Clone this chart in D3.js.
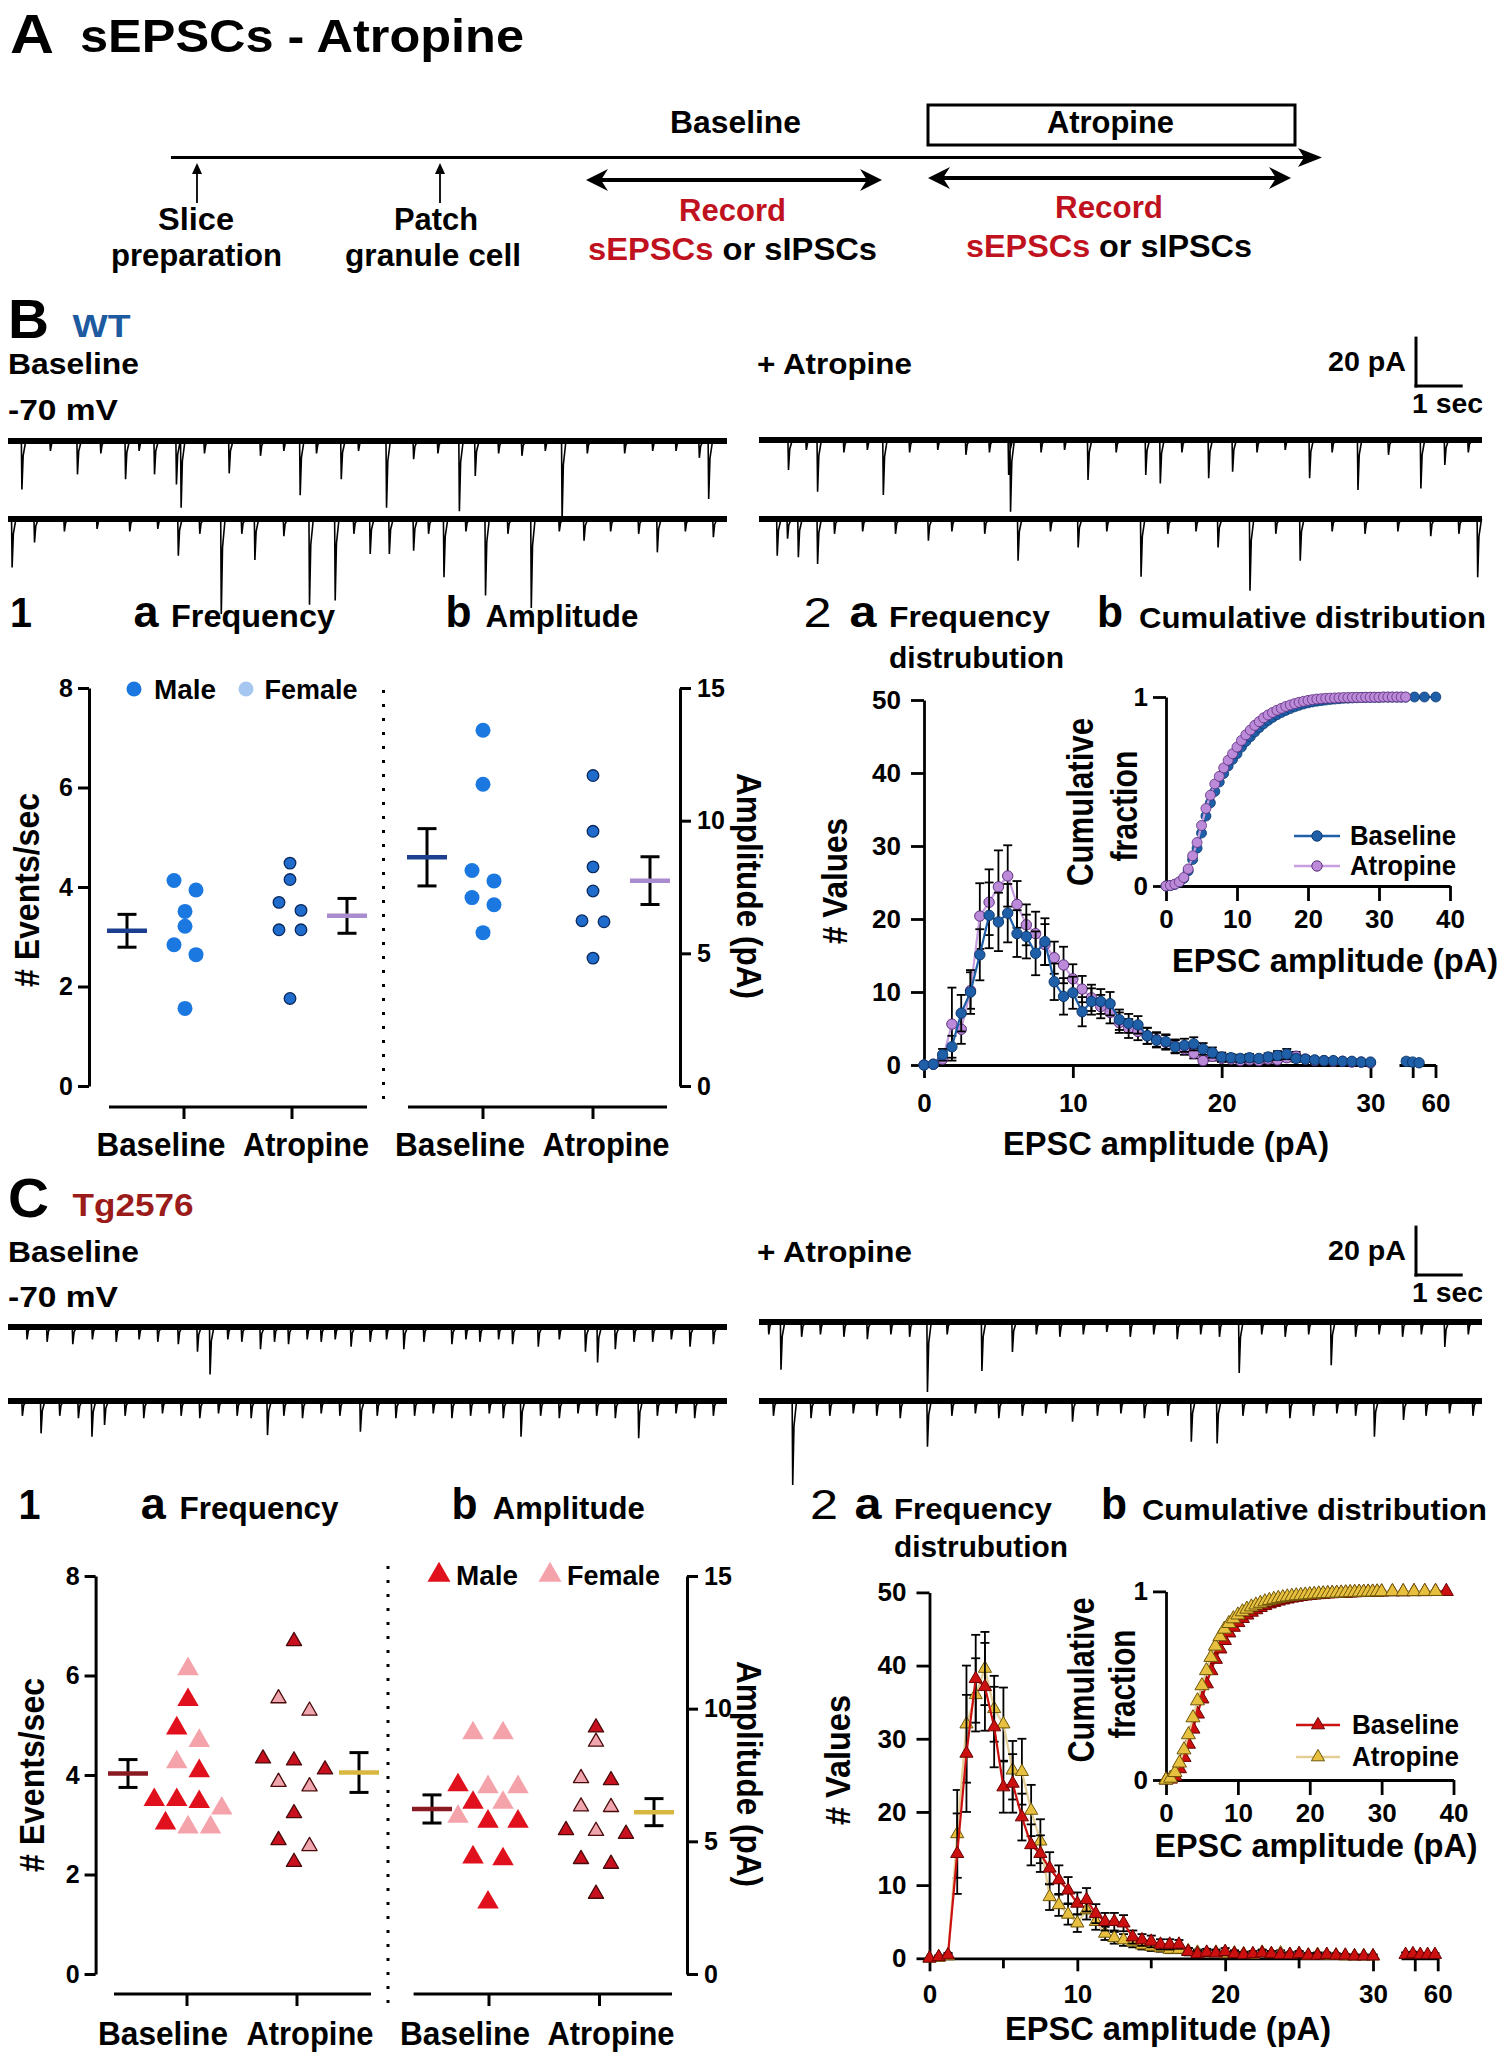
<!DOCTYPE html>
<html><head><meta charset="utf-8">
<script src="https://cdn.jsdelivr.net/npm/d3@7"></script>
<style>body{margin:0;background:#fff}svg{display:block}</style>
</head><body><svg id="fig" width="1508" height="2060"></svg>
<script>
// ---------------- DATA ----------------
// Example traces: spontaneous events [time (s), amplitude (pA)]
const wtBase1 = [[0.29,19.6],[0.9,4],[1.48,13.5],[1.98,5],[2.51,15.5],[2.8,4],[3.13,13.5],[3.6,17.6],[3.7,27],[4.2,5],[4.73,13.1],[5.4,6],[5.9,4],[6.25,22],[6.6,5],[7.13,15.5],[7.5,4],[8.1,27],[8.68,7.4],[9.2,5],[9.66,28.4],[10.0,14.2],[10.5,5],[11.0,6],[11.5,4],[11.86,32],[12.4,5],[13.2,5],[13.8,4],[14.3,4],[14.8,6.8],[15.0,23.5]];
const wtBase2 = [[0.08,19.6],[0.56,9.5],[1.2,5],[1.9,4],[2.6,5],[3.2,4],[3.64,14.9],[4.1,6],[4.56,38.5],[5.0,6],[5.28,16.6],[5.9,7],[6.45,34.7],[7.0,33],[7.4,6],[7.75,14.2],[8.16,14.2],[8.68,12.8],[9.0,6],[9.33,23.6],[9.8,5],[10.22,31],[10.7,6],[11.2,36],[11.8,5],[12.33,8.8],[12.9,5],[13.5,6],[13.9,13.5],[14.5,5],[15.1,7.4]];
const wtAtro1 = [[0.62,12.1],[1.0,4],[1.24,20.9],[1.8,5],[2.3,4],[2.64,22.3],[3.2,5],[3.8,4],[4.4,6],[4.9,5],[5.31,14.2],[5.35,29],[6.0,5],[6.5,4],[7.0,16.2],[7.6,5],[8.23,14.2],[8.54,17.6],[9.0,5],[9.57,15.5],[10.08,12.8],[10.6,5],[11.2,4],[11.72,15.5],[12.2,5],[12.75,20.2],[13.4,6],[14.09,19.6],[14.6,10.1],[15.1,5]];
const wtAtro2 = [[0.38,14.9],[0.6,8],[0.83,15.5],[1.24,18.2],[1.6,6],[2.2,5],[2.9,6],[3.6,8.8],[4.1,5],[4.8,6],[5.51,16.9],[6.2,5],[6.79,11.5],[7.4,5],[8.13,23.4],[8.7,6],[9.3,5],[9.77,11.5],[10.45,29],[11.0,6],[11.52,16.9],[12.2,5],[12.9,6],[13.6,5],[14.3,7],[14.9,6],[15.3,23.6]];
const tgBase1 = [[0.4,5],[0.83,6],[1.38,7],[1.8,5],[2.31,6],[2.8,5],[3.2,6],[3.64,7],[4.05,10],[4.32,19.2],[4.7,5],[5.0,6],[5.4,9],[5.7,6],[6.0,7],[6.4,5],[6.7,6],[7.0,5],[7.34,8],[7.75,6],[8.1,5],[8.47,9],[8.9,6],[9.5,7],[9.8,5],[10.1,6],[10.5,5],[10.8,7],[11.35,8],[11.8,5],[12.36,10],[12.62,14.4],[13.0,9],[13.4,6],[13.8,6],[14.2,5],[14.6,8],[15.1,7]];
const tgBase2 = [[0.3,6],[0.7,13.1],[1.1,6],[1.5,7],[1.79,14.5],[2.06,9.7],[2.5,6],[2.9,7],[3.3,5],[3.7,6],[4.1,7],[4.5,5],[4.9,6],[5.2,7],[5.55,13.8],[5.9,6],[6.3,7],[6.7,5],[7.1,6],[7.54,12.4],[7.9,6],[8.3,7],[8.7,6],[9.1,5],[9.5,7],[9.9,6],[10.3,5],[10.6,7],[10.98,14.5],[11.4,6],[11.8,7],[12.2,5],[12.6,6],[13.0,7],[13.5,15.1],[13.9,6],[14.3,5],[14.7,7],[15.1,6]];
const tgAtro1 = [[0.2,5],[0.46,19.3],[0.9,6],[1.3,5],[1.8,6],[2.3,7],[2.8,5],[3.2,6],[3.58,28.3],[4.0,5],[4.74,19.8],[5.39,12.1],[5.9,5],[6.4,6],[6.9,5],[7.4,4],[7.9,6],[8.4,5],[8.9,7],[9.4,5],[9.8,6],[10.22,20.6],[10.7,5],[11.2,6],[11.7,5],[12.18,17.5],[12.7,6],[13.2,5],[13.7,6],[14.1,5],[14.6,10.1],[15.1,5]];
const tgAtro2 = [[0.3,6],[0.71,34],[1.1,7],[1.5,6],[2.0,5],[2.5,6],[3.0,7],[3.58,18.5],[4.1,6],[4.6,5],[5.1,7],[5.6,6],[6.1,5],[6.67,8.4],[7.2,6],[7.7,5],[8.2,7],[8.7,6],[9.2,16.5],[9.75,17.2],[10.3,6],[10.8,5],[11.3,7],[11.8,6],[12.3,5],[12.7,6],[13.1,14.5],[13.72,7.7],[14.2,6],[14.7,5],[15.2,6]];

// Panel 1: per-cell values
const groups = ['Baseline','Atropine'];
const freqWTBase = [4.13,3.94,3.51,3.21,2.84,2.64,1.56];
const freqWTAtro = [4.48,4.15,3.69,3.53,3.14,3.14,1.76];
const ampWTBase  = [13.41,11.37,8.12,7.73,7.10,6.83,5.78];
const ampWTAtro  = [11.7,9.6,8.26,7.35,6.23,6.19,4.82];
const freqWTMean = [3.12,3.42], freqWTSem = [0.33,0.35];
const ampWTMean  = [8.62,7.74], ampWTSem  = [1.08,0.90];

const freqTgBase    = [6.13,5.51,4.94,4.69,4.26,4.08,3.50,3.50,3.46,3.33,3.03,2.95,2.95];
const freqTgBaseSex = ['F','M','M','F','F','M','M','M','M','F','M','F','F'];
const freqTgAtro    = [6.69,5.54,5.29,4.33,4.29,4.11,3.86,3.77,3.23,2.69,2.57,2.25];
const freqTgAtroSex = ['M','F','F','M','M','M','F','F','M','M','F','M'];
const ampTgBase     = [9.08,9.08,7.12,7.05,7.05,6.46,6.46,5.93,5.75,5.75,4.40,4.33,2.70];
const ampTgBaseSex  = ['F','F','M','F','F','M','F','F','M','M','M','M','M'];
const ampTgAtro     = [9.29,8.75,7.38,7.30,6.31,6.29,5.42,5.39,5.28,4.33,4.15,3.02];
const ampTgAtroSex  = ['M','F','F','M','F','F','M','F','M','M','M','M'];
const freqTgMean = [4.03,4.05], freqTgSem = [0.28,0.40];
const ampTgMean  = [6.22,6.10], ampTgSem  = [0.53,0.51];

// Panel 2a: frequency distribution (bin centres, pA)
const histBins = [0,0.625,1.25,1.875,2.5,3.125,3.75,4.375,5,5.625,6.25,6.875,7.5,8.125,8.75,9.375,10,10.625,11.25,11.875,12.5,13.125,13.75,14.375,15,15.625,16.25,16.875,17.5,18.125,18.75,19.375,20,20.625,21.25,21.875,22.5,23.125,23.75,24.375,25,25.625,26.25,26.875,27.5,28.125,28.75,29.375,30];
const histWTBase = [0,0.1,1.4,2.5,7.1,10.0,15.1,20.5,19.6,20.8,18.0,17.6,15.3,16.9,11.4,9.4,9.9,7.3,8.7,8.7,8.4,6.2,5.7,5.5,4.0,3.4,3.2,2.5,2.7,2.9,2.2,1.7,1.1,1.0,0.9,1.0,0.9,1.1,1.3,1.5,0.9,0.8,0.7,0.6,0.6,0.5,0.5,0.4,0.4];
const histWTBaseSem = [0,0.1,0.8,1.5,2.5,3,3.5,4.5,4,4,3.2,3,3,3.2,2.5,2.5,2.2,2,1.8,1.7,1.6,1.4,1.3,1.2,1.1,1,1,0.9,0.9,0.9,0.8,0.7,0.6,0.5,0.5,0.5,0.4,0.5,0.6,0.7,0.5,0.4,0.4,0.3,0.3,0.3,0.3,0.2,0.2];
const histWTAtro = [0,0.1,0.8,5.6,4.9,10.2,20.4,22.3,24.4,25.9,22.0,19.2,18.0,16.5,14.7,13.7,11.8,10.4,9.2,8.0,7.2,5.8,5.0,4.6,4.0,3.5,3.1,2.6,2.2,1.6,0.6,1.2,0.9,0.8,0.6,0.7,0.6,0.8,0.7,1.0,1.2,0.8,0.6,0.6,0.5,0.5,0.4,0.4,0.3];
const histWTAtroSem = [0,0.1,0.8,5,2,2.5,4.5,4.5,5,4.2,3.2,2.8,3,2.8,2.2,2.5,2,1.8,1.8,1.6,1.5,1.4,1.3,1.2,1.1,1,1,0.9,0.8,0.7,0.5,0.6,0.5,0.4,0.4,0.4,0.4,0.5,0.4,0.5,0.6,0.4,0.3,0.3,0.3,0.3,0.2,0.2,0.2];
const histWTTailBins = [56.8,57.5,58.2], histWTTailBase = [0.5,0.4,0.3], histWTTailSem = [0.4,0.2,0.2];

const histTgBase = [0,0.2,0.45,14.3,28.0,38.2,37.1,31.6,23.4,23.9,19.3,15.5,14.3,12.3,10.7,9.3,7.5,8.0,6.1,5.0,5.0,4.8,2.9,2.5,2.3,1.9,1.9,1.9,0.9,0.6,0.8,0.7,0.9,0.6,0.5,0.6,0.7,0.6,0.5,0.5,0.6,0.4,0.4,0.5,0.4,0.4,0.3,0.3,0.3];
const histTgBaseSem = [0,0.2,0.3,5.5,8,6,6,5.5,3.5,4,3.2,2.8,2.5,2.2,2,1.8,1.5,1.6,1.3,1.2,1.2,1.1,0.9,0.8,0.8,0.7,0.7,0.6,0.5,0.4,0.5,0.4,0.5,0.4,0.3,0.4,0.4,0.4,0.3,0.3,0.4,0.3,0.3,0.3,0.3,0.2,0.2,0.2,0.2];
const histTgAtro = [0,0.1,0.3,17.0,32.0,36.0,39.6,34.1,32.0,25.7,25.5,20.2,16.0,8.4,7.3,6.0,4.8,6.6,5.0,3.4,2.8,2.5,2.2,1.8,1.6,1.4,1.2,1.2,1.0,0.8,0.7,0.8,0.6,0.7,0.6,0.5,0.8,0.6,0.7,0.5,0.6,0.4,0.5,0.4,0.4,0.3,0.3,0.3,0.3];
const histTgAtroSem = [0,0.1,0.3,6,8,5,5,4.5,5,4,4.5,3.5,3,1.8,1.5,1.4,1.2,1.3,1.1,0.9,0.8,0.8,0.7,0.6,0.6,0.5,0.5,0.5,0.4,0.4,0.4,0.4,0.3,0.4,0.3,0.3,0.4,0.3,0.4,0.3,0.3,0.3,0.3,0.2,0.2,0.2,0.2,0.2,0.2];
const histTgTailBins = [56.5,57.3,58.1,58.9,59.7], histTgTailBase = [0.5,0.6,0.5,0.5,0.5], histTgTailSem = [0.3,0.3,0.2,0.2,0.2];

// Panel 2b: cumulative fraction
const cumAmpWT = histBins.concat([30.625,31.25,31.875,32.5,33.125,33.75,35,36.4,38]);
const cumWTBase = [0,0.002,0.008,0.02,0.04,0.08,0.14,0.20,0.28,0.37,0.44,0.50,0.55,0.595,0.635,0.67,0.70,0.735,0.765,0.79,0.815,0.838,0.858,0.876,0.892,0.906,0.918,0.929,0.939,0.948,0.956,0.963,0.969,0.974,0.978,0.981,0.984,0.987,0.989,0.991,0.993,0.994,0.995,0.996,0.997,0.997,0.998,0.998,0.998,0.999,0.999,0.999,0.999,0.999,0.999,1,1,1];
const cumWTAtro = [0,0.003,0.01,0.022,0.045,0.09,0.16,0.23,0.32,0.41,0.48,0.54,0.58,0.625,0.665,0.70,0.735,0.77,0.80,0.825,0.85,0.87,0.89,0.905,0.918,0.93,0.94,0.95,0.958,0.965,0.972,0.977,0.982,0.986,0.989,0.991,0.993,0.994,0.995,0.996,0.997,0.997,0.998,0.998,0.998,0.999,0.999,0.999,0.999,1,1,1,1,1,1];
const cumAmpTg = histBins.concat([31.5,33,34.5,36,37.5,39]);
const cumTgBase = [0,0.005,0.02,0.06,0.12,0.19,0.27,0.35,0.43,0.51,0.58,0.64,0.695,0.74,0.78,0.81,0.835,0.857,0.875,0.89,0.903,0.915,0.925,0.934,0.942,0.949,0.955,0.96,0.965,0.969,0.973,0.976,0.979,0.981,0.983,0.985,0.987,0.988,0.989,0.990,0.991,0.992,0.993,0.994,0.995,0.995,0.996,0.996,0.997,0.998,0.998,0.999,0.999,1,1];
const cumTgAtro = [0,0.01,0.04,0.09,0.16,0.24,0.33,0.42,0.50,0.58,0.65,0.71,0.76,0.80,0.83,0.855,0.875,0.892,0.906,0.918,0.928,0.937,0.945,0.952,0.958,0.963,0.967,0.971,0.974,0.977,0.979,0.981,0.983,0.985,0.987,0.988,0.989,0.99,0.991,0.992,0.993,0.994,0.995,0.996,0.996,0.997,0.997,0.998,0.998,0.999,0.999,0.999,1,1];

// ---------------- DRAWING ----------------
const svg = d3.select('#fig');
const FONT = '"Liberation Sans", Arial, Helvetica, sans-serif';
svg.append('rect').attr('width',1508).attr('height',2060).attr('fill','#fff');
const RED = '#c0121e';

function T(g,x,y,s,o={}){
  const t=g.append('text').attr('x',x).attr('y',y)
    .attr('font-family',FONT).attr('font-weight',o.w||'bold')
    .attr('font-size',o.size||31).attr('fill',o.fill||'#000')
    .attr('text-anchor',o.anchor||'start');
  if(o.tspans){ o.tspans.forEach(([str,col])=>t.append('tspan').attr('fill',col).text(str)); } else t.text(s);
  if(o.len) t.attr('textLength',o.len).attr('lengthAdjust','spacingAndGlyphs');
  if(o.rot) t.attr('transform',`rotate(${o.rot},${x},${y})`);
  if(o.db) t.attr('dominant-baseline',o.db);
  return t;
}
function L(g,x1,y1,x2,y2,w,col){
  return g.append('line').attr('x1',x1).attr('y1',y1).attr('x2',x2).attr('y2',y2)
    .attr('stroke',col||'#000').attr('stroke-width',w||2);
}
function styleAxis(a,fs,w){
  a.select('.domain').attr('stroke','#000').attr('stroke-width',w);
  a.selectAll('.tick line').attr('stroke','#000').attr('stroke-width',w);
  a.selectAll('.tick text').attr('font-family',FONT).attr('font-weight','bold').attr('font-size',fs).attr('fill','#000');
}

// ===== Panel A: protocol =====
const gA = svg.append('g');
T(gA,10,53,'A',{size:56,len:44});
T(gA,80,52,'sEPSCs - Atropine',{size:46,len:444});
L(gA,171,157.5,1304,157.5,3);
gA.append('path').attr('d','M1298,148 L1322,157.5 L1298,167 L1304,157.5 Z').attr('fill','#000');
gA.append('rect').attr('x',928).attr('y',105).attr('width',367).attr('height',40).attr('fill','none').attr('stroke','#000').attr('stroke-width',3);
T(gA,670,133,'Baseline',{size:32,len:131});
T(gA,1047,133,'Atropine',{size:32,len:127});
[197,440].forEach(x=>{
  L(gA,x,203,x,168,1.8);
  gA.append('path').attr('d',`M${x-5},174 L${x},163 L${x+5},174 Z`).attr('fill','#000');
});
T(gA,158,230,'Slice',{size:32,len:76});
T(gA,111,266,'preparation',{size:32,len:171});
T(gA,394,230,'Patch',{size:32,len:84});
T(gA,345,266,'granule cell',{size:32,len:176});
function dblArrow(x1,x2,y){
  L(gA,x1+8,y,x2-8,y,4);
  gA.append('path').attr('d',`M${x1},${y} L${x1+22},${y-11} L${x1+15},${y} L${x1+22},${y+11} Z`).attr('fill','#000');
  gA.append('path').attr('d',`M${x2},${y} L${x2-22},${y-11} L${x2-15},${y} L${x2-22},${y+11} Z`).attr('fill','#000');
}
dblArrow(586,882,180); dblArrow(928,1291,178);
T(gA,679,221,'Record',{size:32,len:107,fill:RED});
T(gA,588,260,'',{size:32,len:289,tspans:[['sEPSCs',RED],[' or sIPSCs','#000']]});
T(gA,1055,218,'Record',{size:32,len:108,fill:RED});
T(gA,966,257,'',{size:32,len:286,tspans:[['sEPSCs',RED],[' or sIPSCs','#000']]});

// ===== Trace panels =====
const traceDur = 15.4;
function trace(g, ev, x0, x1, base){
  const xs = d3.scaleLinear([0,traceDur],[x0,x1]);
  const ys = d3.scaleLinear([0,20],[base, base+49.4]);
  L(g,x0,base,x1,base,6);
  const pts=[[0,0]];
  ev.slice().sort((a,b)=>a[0]-b[0]).forEach(([t,a])=>{pts.push([t-0.004,0],[t+0.008,a],[t+0.035,a*0.3],[t+0.09,0]);});
  pts.push([traceDur,0]);
  g.append('path').attr('d',d3.line().x(d=>xs(d[0])).y(d=>ys(d[1]))(pts))
    .attr('fill','none').attr('stroke','#000').attr('stroke-width',1.6).attr('stroke-linejoin','bevel');
  return {xs,ys};
}
function traceHeader(c){
  const g=svg.append('g');
  T(g,8,c.letterY,c.letter,{size:56,len:41});
  T(g,72.5,c.letterY-1,c.geno,{size:31,len:c.genoLen,fill:c.genoCol});
  T(g,8,c.labY,'Baseline',{size:29,len:131});
  T(g,757,c.labY,'+ Atropine',{size:29,len:155});
  T(g,8,c.mvY,'-70 mV',{size:29,len:110});
  const s1 = trace(g,c.b1,8,727,c.base1);
  trace(g,c.b2,8,727,c.base2);
  trace(g,c.a1,759,1482,c.base1r);
  trace(g,c.a2,759,1482,c.base2);
  // scale bar: 20 pA, 1 s
  const vLen = s1.ys(20)-s1.ys(0), hLen = s1.xs(1)-s1.xs(0);
  L(g,1416,c.sbY-vLen,1416,c.sbY+1.5,3);
  L(g,1414.5,c.sbY,1416+hLen,c.sbY,3);
  T(g,1328,c.sbY-15,'20 pA',{size:27,len:78});
  T(g,1412,c.sbY+27,'1 sec',{size:27,len:71});
}
traceHeader({letter:'B',letterY:338,geno:'WT',genoLen:58,genoCol:'#1e5aa0',labY:374,mvY:420,
  base1:441,base1r:440,base2:519,b1:wtBase1,b2:wtBase2,a1:wtAtro1,a2:wtAtro2,sbY:386});
traceHeader({letter:'C',letterY:1217,geno:'Tg2576',genoLen:121,genoCol:'#9b1b1b',labY:1262,mvY:1307,
  base1:1327,base1r:1322,base2:1401,b1:tgBase1,b2:tgBase2,a1:tgAtro1,a2:tgAtro2,sbY:1275});

// ===== Panel 1 scatter =====
function rowsLayout(vals, sexes, yScale, thr, sp){
  const items = vals.map((v,i)=>({v, s:sexes?sexes[i]:'M'})).sort((a,b)=>b.v-a.v);
  const rows=[];
  items.forEach(it=>{
    const last=rows[rows.length-1];
    if(last && Math.abs(yScale(it.v)-yScale(last[0].v))<thr) last.push(it); else rows.push([it]);
  });
  rows.forEach(r=>r.forEach((it,i)=>{it.dx=(i-(r.length-1)/2)*sp;}));
  return items;
}
function marker(g,x,y,m){
  if(m.shape==='circle'){
    g.append('circle').attr('cx',x).attr('cy',y).attr('r',m.r).attr('fill',m.fill)
      .attr('stroke',m.stroke||'none').attr('stroke-width',m.sw||0);
  } else {
    g.append('path').attr('d',d3.symbol(d3.symbolTriangle,m.size)()).attr('transform',`translate(${x},${y})`)
      .attr('fill',m.fill).attr('stroke',m.stroke||'none').attr('stroke-width',m.sw||0).attr('stroke-linejoin','round');
  }
}
function meanBar(g,cx,y,m,s,col){
  L(g,cx,y(m+s),cx,y(m-s),3);
  L(g,cx-9.5,y(m+s),cx+9.5,y(m+s),3);
  L(g,cx-9.5,y(m-s),cx+9.5,y(m-s),3);
  L(g,cx-20,y(m),cx+20,y(m),4.5,col);
}
function scatterPanel(c){
  const g=svg.append('g');
  const yF=d3.scaleLinear([0,8],[c.fy0,c.fy8]);
  const yA=d3.scaleLinear([0,15],[c.fy0,c.fy8]);
  const aL=g.append('g').attr('transform',`translate(${c.lx},0)`)
    .call(d3.axisLeft(yF).tickValues([0,2,4,6,8]).tickSize(11).tickSizeOuter(0).tickPadding(5));
  const aR=g.append('g').attr('transform',`translate(${c.rx},0)`)
    .call(d3.axisRight(yA).tickValues([0,5,10,15]).tickSize(11).tickSizeOuter(0).tickPadding(6));
  styleAxis(aL,25,3); styleAxis(aR,25,3);
  // category x axes
  const xa=d3.scaleOrdinal(groups,c.aTicks), xb=d3.scaleOrdinal(groups,c.bTicks);
  L(g,c.aLine[0],c.xY,c.aLine[1],c.xY,3); L(g,c.bLine[0],c.xY,c.bLine[1],c.xY,3);
  groups.forEach((k,i)=>{
    L(g,xa(k),c.xY,xa(k),c.xY+12,3); L(g,xb(k),c.xY,xb(k),c.xY+12,3);
    T(g,c.aLab[i],c.labY,k,{size:33,len:c.aLen[i],anchor:'middle'});
    T(g,c.bLab[i],c.labY,k,{size:33,len:c.bLen[i],anchor:'middle'});
  });
  // separator
  L(g,c.sepX,c.sepY[0],c.sepX,c.sepY[1],3).attr('stroke-dasharray','3,11');
  // axis titles
  T(g,c.yl[0],c.yl[1],'# Events/sec',{size:35,len:194,anchor:'middle',rot:-90});
  T(g,c.yr[0],c.yr[1],'Amplitude (pA)',{size:35,len:226,anchor:'middle',rot:90});
  // headers
  T(g,c.h1[0],c.hY,'1',{size:42,len:22,w:'bold'});
  T(g,c.ha[0],c.hY,'a',{size:44,len:25});
  T(g,c.hf[0],c.hY,'Frequency',{size:31,len:c.hf[1]});
  T(g,c.hb[0],c.hY,'b',{size:44,len:26});
  T(g,c.hm[0],c.hY,'Amplitude',{size:31,len:c.hm[1]});
  // means
  meanBar(g,c.aMeans[0],yF,c.fMean[0],c.fSem[0],c.meanCol[0]);
  meanBar(g,c.aMeans[1],yF,c.fMean[1],c.fSem[1],c.meanCol[1]);
  meanBar(g,c.bMeans[0],yA,c.aMean[0],c.aSem[0],c.meanCol[0]);
  meanBar(g,c.bMeans[1],yA,c.aMean[1],c.aSem[1],c.meanCol[1]);
  // points
  const sets=[[c.fBase,c.fBaseSex,yF,c.aCent[0],c.mkBase,c.sp[0]],[c.fAtro,c.fAtroSex,yF,c.aCent[1],c.mkAtro,c.sp[1]],
              [c.aBase,c.aBaseSex,yA,c.bCent[0],c.mkBase,c.sp[2]],[c.aAtro,c.aAtroSex,yA,c.bCent[1],c.mkAtro,c.sp[3]]];
  sets.forEach(([vals,sex,ys,cx,mk,sp])=>{
    rowsLayout(vals,sex,ys,13.5,sp).forEach(it=>marker(g,cx+it.dx,ys(it.v),mk[it.s]));
  });
  // legend
  marker(g,c.leg[0],c.leg[1],c.mkLeg.M); T(g,c.leg[2],c.leg[1]+10,'Male',{size:27,len:62});
  marker(g,c.leg[3],c.leg[1],c.mkLeg.F); T(g,c.leg[4],c.leg[1]+10,'Female',{size:27,len:93});
}
const blueM='#1a78e0', blueF='#a6c8f0';
scatterPanel({fy0:1086,fy8:688,lx:89,rx:680,xY:1107,aLine:[109,367],bLine:[408,667],aTicks:[184,292],bTicks:[483,593],
  aCent:[185,290],bCent:[483,593],aMeans:[127,347],bMeans:[427,650],sepX:383.5,sepY:[690,1103],
  aLab:[161,306],aLen:[129,126],bLab:[460,606],bLen:[130,127],labY:1156,
  yl:[39,890],yr:[737,886],hY:627,h1:[10],ha:[133.5],hf:[171,164],hb:[445.6],hm:[485.4,153],
  fMean:freqWTMean,fSem:freqWTSem,aMean:ampWTMean,aSem:ampWTSem,meanCol:['#1d3f8f','#a98bd0'],
  fBase:freqWTBase,fAtro:freqWTAtro,aBase:ampWTBase,aAtro:ampWTAtro,
  mkBase:{M:{shape:'circle',r:7.5,fill:blueM},F:{shape:'circle',r:7.5,fill:blueF}},
  mkAtro:{M:{shape:'circle',r:5.8,fill:'#1f6ccc',stroke:'#0b2a5e',sw:1.3},F:{shape:'circle',r:5.8,fill:blueF,stroke:'#0b2a5e',sw:1.3}},
  mkLeg:{M:{shape:'circle',r:7.5,fill:blueM},F:{shape:'circle',r:7.5,fill:blueF}},
  sp:[22,22,22,22],leg:[134,689,154,246,264.6]});
const redM='#e0101c', pinkF='#f5a3ab';
scatterPanel({fy0:1974,fy8:1576,lx:95.6,rx:687,xY:1994,aLine:[114,371],bLine:[413.6,672],aTicks:[187,297],bTicks:[489,599.5],
  aCent:[188,294],bCent:[488,596],aMeans:[128,359],bMeans:[432,654],sepX:388,sepY:[1566,2006],
  aLab:[163,310],aLen:[130,127],bLab:[465,611],bLen:[130,127],labY:2045,
  yl:[44,1775],yr:[737,1774],hY:1519,h1:[18.4],ha:[140.8],hf:[179.6,159],hb:[451.5],hm:[492.7,152],
  fMean:freqTgMean,fSem:freqTgSem,aMean:ampTgMean,aSem:ampTgSem,meanCol:['#8a1a22','#d8b840'],
  fBase:freqTgBase,fBaseSex:freqTgBaseSex,fAtro:freqTgAtro,fAtroSex:freqTgAtroSex,
  aBase:ampTgBase,aBaseSex:ampTgBaseSex,aAtro:ampTgAtro,aAtroSex:ampTgAtroSex,
  mkBase:{M:{shape:'tri',size:200,fill:redM},F:{shape:'tri',size:200,fill:pinkF}},
  mkAtro:{M:{shape:'tri',size:100,fill:'#c8101e',stroke:'#4a0a0a',sw:1.3},F:{shape:'tri',size:100,fill:'#f0a6ae',stroke:'#4a0a0a',sw:1.3}},
  mkLeg:{M:{shape:'tri',size:230,fill:redM},F:{shape:'tri',size:230,fill:pinkF}},
  sp:[22.5,31,30,30],leg:[439,1575,456,550,567]});

// ===== Panel 2 =====
function series(g,xs,y,amps,vals,sems,st){
  const pts=amps.map((a,i)=>({a,v:vals[i],s:sems?sems[i]:0})).filter(d=>d.v!==undefined);
  if(sems) pts.filter(d=>d.s>0.15).forEach(d=>{
    const x=xs(d.a), y1=y(d.v+d.s), y2=y(Math.max(0,d.v-d.s));
    L(g,x,y1,x,y2,1.8); L(g,x-4.5,y1,x+4.5,y1,1.8); L(g,x-4.5,y2,x+4.5,y2,1.8);
  });
  g.append('path').attr('d',d3.line().x(d=>xs(d.a)).y(d=>y(d.v))(pts)).attr('fill','none')
    .attr('stroke',st.line).attr('stroke-width',st.lw||2.2);
  pts.forEach(d=>marker(g,xs(d.a),y(d.v),st.mk));
}
function histPanel(c){
  const g=svg.append('g');
  const x1=d3.scaleLinear([0,30],[c.x0,c.x30]);
  const x2=d3.scaleLinear([56,60],[c.s2a,c.s2b]);
  const y=d3.scaleLinear([0,50],[c.yb,c.yt]);
  const ay=g.append('g').attr('transform',`translate(${c.x0},0)`)
    .call(d3.axisLeft(y).tickValues([0,10,20,30,40,50]).tickSize(13).tickSizeOuter(0).tickPadding(10));
  const ax1=g.append('g').attr('transform',`translate(0,${c.yb})`)
    .call(d3.axisBottom(x1).tickValues([0,10,20,30]).tickSize(13).tickSizeOuter(0).tickPadding(c.xpad));
  const ax2=g.append('g').attr('transform',`translate(0,${c.yb})`)
    .call(d3.axisBottom(x2).tickValues([57.5,60]).tickFormat(d=>d===60?'60':'').tickSize(13).tickSizeOuter(0).tickPadding(c.xpad));
  [ay,ax1,ax2].forEach(a=>styleAxis(a,26,2.8));
  if(c.minor) [5,15,25].forEach(v=>L(g,x1(v),c.yb,x1(v),c.yb+10,2.8));
  T(g,c.ylab[0],c.ylab[1],'# Values',{size:35,len:c.ylab[2],anchor:'middle',rot:-90});
  T(g,c.xlab[0],c.xlab[1],'EPSC amplitude (pA)',{size:33,len:326,anchor:'middle'});
  c.ser.forEach(s=>{
    series(g,x1,y,histBins,s.vals,s.sems,s.st);
    if(s.tb) series(g,x2,y,s.tb,s.tv,s.ts,s.st);
  });
  // inset (cumulative)
  const ix=d3.scaleLinear([0,40],[c.i.x0,c.i.x40]);
  const iy=d3.scaleLinear([0,1],[c.i.yb,c.i.yt]);
  const iay=g.append('g').attr('transform',`translate(${c.i.x0},0)`)
    .call(d3.axisLeft(iy).tickValues([0,1]).tickFormat(d3.format('d')).tickSize(13).tickSizeOuter(0).tickPadding(5));
  const iax=g.append('g').attr('transform',`translate(0,${c.i.yb})`)
    .call(d3.axisBottom(ix).tickValues([0,10,20,30,40]).tickSize(15).tickSizeOuter(0).tickPadding(9));
  [iay,iax].forEach(a=>styleAxis(a,26,2.8));
  T(g,c.i.cum[0],c.i.cum[1],'Cumulative',{size:37,len:c.i.cum[2],anchor:'middle',rot:-90,db:'central'});
  T(g,c.i.fr[0],c.i.fr[1],'fraction',{size:37,len:c.i.fr[2],anchor:'middle',rot:-90,db:'central'});
  T(g,c.i.xl[0],c.i.xl[1],'EPSC amplitude (pA)',{size:33,len:c.i.xl[2],anchor:'middle'});
  c.cum.forEach(s=>series(g,ix,iy,s.amps,s.vals,null,s.st));
  // legend
  c.leg.forEach((s,k)=>{
    const ly=c.legY[k];
    L(g,c.legX[0],ly,c.legX[1],ly,2.5,s.st.line);
    marker(g,(c.legX[0]+c.legX[1])/2,ly,s.st.mk);
    T(g,c.legX[2],ly+9,s.name,{size:27,len:s.len});
  });
  // headers
  T(g,c.h.two[0],c.h.y,'2',{size:42,len:28,w:'normal'});
  T(g,c.h.a,c.h.y,'a',{size:44,len:27});
  T(g,c.h.f[0],c.h.y,'Frequency',{size:30,len:c.h.f[1]});
  T(g,c.h.f[0],c.h.y2,'distrubution',{size:30,len:c.h.d});
  T(g,c.h.b,c.h.y,'b',{size:44,len:26});
  T(g,c.h.c[0],c.h.y+1,'Cumulative distribution',{size:30,len:c.h.c[1]});
}
const stBlue={line:'#1f5fa8',mk:{shape:'circle',r:5.2,fill:'#1f5fa8',stroke:'#0d3a72',sw:1}};
const stPurp={line:'#c79fe0',mk:{shape:'circle',r:5.2,fill:'#bb8ad8',stroke:'#5e2f7e',sw:1}};
const stRed ={line:'#cc1111',mk:{shape:'tri',size:75,fill:'#cc1010',stroke:'#6a0000',sw:1}};
const stYel ={line:'#e3cf95',mk:{shape:'tri',size:75,fill:'#e8c040',stroke:'#6e5608',sw:1}};
histPanel({x0:924,x30:1370.5,s2a:1399,s2b:1435.5,yb:1065,yt:700,xpad:16,minor:false,
  ylab:[847,881,126],xlab:[1166,1155],
  ser:[{vals:histWTAtro,sems:histWTAtroSem,st:stPurp},{vals:histWTBase,sems:histWTBaseSem,st:stBlue,tb:histWTTailBins,tv:histWTTailBase,ts:histWTTailSem}],
  i:{x0:1166,x40:1450,yb:886,yt:697,cum:[1080,802,168],fr:[1124,806,111],xl:[1335,972,326]},
  cum:[{amps:cumAmpWT,vals:cumWTBase,st:{line:'#1f5fa8',mk:{shape:'circle',r:5,fill:'#1f5fa8',stroke:'#0d3a72',sw:0.8}}},
       {amps:cumAmpWT,vals:cumWTAtro,st:{line:'#c79fe0',mk:{shape:'circle',r:5,fill:'#bb8ad8',stroke:'#5e2f7e',sw:0.8}}}],
  leg:[{name:'Baseline',len:106,st:stBlue},{name:'Atropine',len:106,st:stPurp}],legX:[1294,1340,1350],legY:[836,866],
  h:{y:627,y2:668,two:[803.5],a:849.5,f:[889,161],d:175,b:1097,c:[1139,347]}});
histPanel({x0:929.5,x30:1373,s2a:1401,s2b:1437.7,yb:1958.3,yt:1592.4,xpad:13,minor:true,
  ylab:[850,1760,130],xlab:[1168,2040],
  ser:[{vals:histTgAtro,sems:histTgAtroSem,st:stYel},{vals:histTgBase,sems:histTgBaseSem,st:stRed,tb:histTgTailBins,tv:histTgTailBase,ts:histTgTailSem}],
  i:{x0:1166,x40:1453.5,yb:1780,yt:1591.4,cum:[1081,1680,165],fr:[1122,1684,109],xl:[1316,1857,323]},
  cum:[{amps:cumAmpTg,vals:cumTgBase,st:{line:'#cc1111',mk:{shape:'tri',size:85,fill:'#cc1010',stroke:'#6a0000',sw:1}}},
       {amps:cumAmpTg,vals:cumTgAtro,st:{line:'#e3cf95',mk:{shape:'tri',size:85,fill:'#e8c040',stroke:'#6e5608',sw:1}}}],
  leg:[{name:'Baseline',len:107,st:stRed},{name:'Atropine',len:107,st:stYel}],legX:[1296,1340,1352],legY:[1725,1757],
  h:{y:1519,y2:1557,two:[810],a:854.4,f:[894,158],d:174,b:1101,c:[1142,345]}});
</script></body></html>
